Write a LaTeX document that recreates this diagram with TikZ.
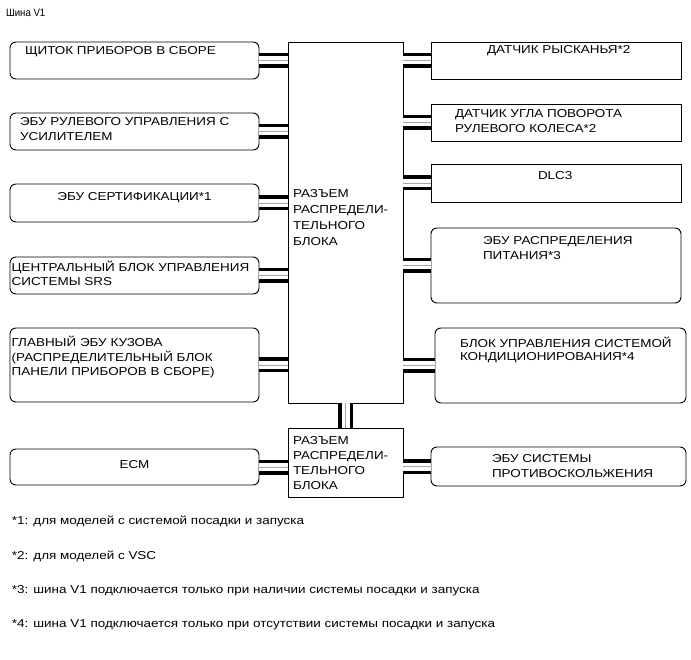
\documentclass[tikz,border=0pt]{standalone}
\usepackage{fontspec}
\setmainfont{Liberation Sans}[FakeStretch=1.17]
\newfontfamily\titlefont{Liberation Sans}[FakeStretch=0.9]
\begin{document}
\begin{tikzpicture}[x=1pt,y=-1pt,
  box/.style={draw=black, line width=0.9pt, inner sep=0pt, outer sep=0pt, anchor=north west},
  rbox/.style={box, rounded corners=6pt},
  txt/.style={inner sep=0pt, outer sep=0pt, font=\fontsize{11.5}{13}\selectfont},
  stxt/.style={txt, anchor=base west},
  ctxt/.style={txt, anchor=base},
  mtxt/.style={inner sep=0pt, outer sep=0pt, align=left, anchor=north west, font=\fontsize{11.5}{#1}\selectfont},
  bus/.style={draw=black, line width=15pt,
    postaction={draw=white, line width=8pt},
    postaction={draw=black!35, line width=0.8pt}}]
\useasboundingbox (0,0) rectangle (691,660);

% boxes
\node[rbox, minimum width=249pt, minimum height=37pt] (L1) at (10,42) {};
\node[rbox, minimum width=249pt, minimum height=37pt] (L2) at (10,113) {};
\node[rbox, minimum width=249pt, minimum height=38pt] (L3) at (10,184) {};
\node[rbox, minimum width=249pt, minimum height=37pt] (L4) at (10,257) {};
\node[rbox, minimum width=249pt, minimum height=74pt] (L5) at (10,328) {};
\node[rbox, minimum width=249pt, minimum height=36pt] (L6) at (10,449) {};
\node[box, minimum width=115pt, minimum height=361pt] (C) at (288,42) {};
\node[box, minimum width=115pt, minimum height=69pt] (D) at (288,428) {};
\node[box, minimum width=250pt, minimum height=37pt] (R1) at (431,42) {};
\node[box, minimum width=250pt, minimum height=37pt] (R2) at (431,104) {};
\node[box, minimum width=250pt, minimum height=38pt] (R3) at (431,164) {};
\node[rbox, minimum width=250pt, minimum height=75pt] (R4) at (431,228) {};
\node[rbox, minimum width=251pt, minimum height=75pt] (R5) at (435,328) {};
\node[rbox, minimum width=255pt, minimum height=39pt] (R6) at (431,447) {};

% buses
\foreach \n in {L1,L2,L3,L4,L5} \draw[bus] (\n.east) -- (\n.east -| C.west);
\draw[bus] (L6.east) -- (L6.east -| D.west);
\foreach \n in {R1,R2,R3,R4,R5} \draw[bus] (\n.west -| C.east) -- (\n.west);
\draw[bus] (R6.west -| D.east) -- (R6.west);
\draw[bus] (C.south) -- (D.north);

% texts
\node[inner sep=0pt, outer sep=0pt, anchor=base west, font=\titlefont\fontsize{10.7}{12}\selectfont] (title) at (6,16.5) {Шина V1};
\node[stxt] (tL1) at (25,55) {ЩИТОК ПРИБОРОВ В СБОРЕ};
\node[mtxt=15] (tL2) at (20,115.5) {\strut ЭБУ РУЛЕВОГО УПРАВЛЕНИЯ С\\УСИЛИТЕЛЕМ};
\node[ctxt] (tL3) at (134.5,201) {ЭБУ СЕРТИФИКАЦИИ*1};
\node[mtxt=13.5] (tL4) at (11.7,261.2) {\strut ЦЕНТРАЛЬНЫЙ БЛОК УПРАВЛЕНИЯ\\СИСТЕМЫ SRS};
\node[mtxt=13.8] (tL5) at (11.7,335.8) {\strut ГЛАВНЫЙ ЭБУ КУЗОВА\\(РАСПРЕДЕЛИТЕЛЬНЫЙ БЛОК\\ПАНЕЛИ ПРИБОРОВ В СБОРЕ)};
\node[ctxt] (tL6) at (134.5,468) {ECM};
\node[mtxt=16] (tC) at (293,186.1) {\strut РАЗЪЕМ\\РАСПРЕДЕЛИ-\\ТЕЛЬНОГО\\БЛОКА};
\node[mtxt=15.3] (tD) at (293,433.3) {\strut РАЗЪЕМ\\РАСПРЕДЕЛИ-\\ТЕЛЬНОГО\\БЛОКА};
\node[stxt] (tR1) at (487,54) {ДАТЧИК РЫСКАНЬЯ*2};
\node[mtxt=15] (tR2) at (455,107.5) {\strut ДАТЧИК УГЛА ПОВОРОТА\\РУЛЕВОГО КОЛЕСА*2};
\node[stxt] (tR3) at (538,180) {DLC3};
\node[mtxt=15] (tR4) at (483,234.5) {\strut ЭБУ РАСПРЕДЕЛЕНИЯ\\ПИТАНИЯ*3};
\node[mtxt=13.3] (tR5) at (460,336.7) {\strut БЛОК УПРАВЛЕНИЯ СИСТЕМОЙ\\КОНДИЦИОНИРОВАНИЯ*4};
\node[mtxt=15.3] (tR6) at (492,451.5) {\strut ЭБУ СИСТЕМЫ\\ПРОТИВОСКОЛЬЖЕНИЯ};

\node[stxt] (f1) at (12,524) {*1: для моделей с системой посадки и запуска};
\node[stxt] (f2) at (12,559) {*2: для моделей с VSC};
\node[stxt] (f3) at (12,593) {*3: шина V1 подключается только при наличии системы посадки и запуска};
\node[stxt] (f4) at (12,627) {*4: шина V1 подключается только при отсутствии системы посадки и запуска};
\end{tikzpicture}
\end{document}
